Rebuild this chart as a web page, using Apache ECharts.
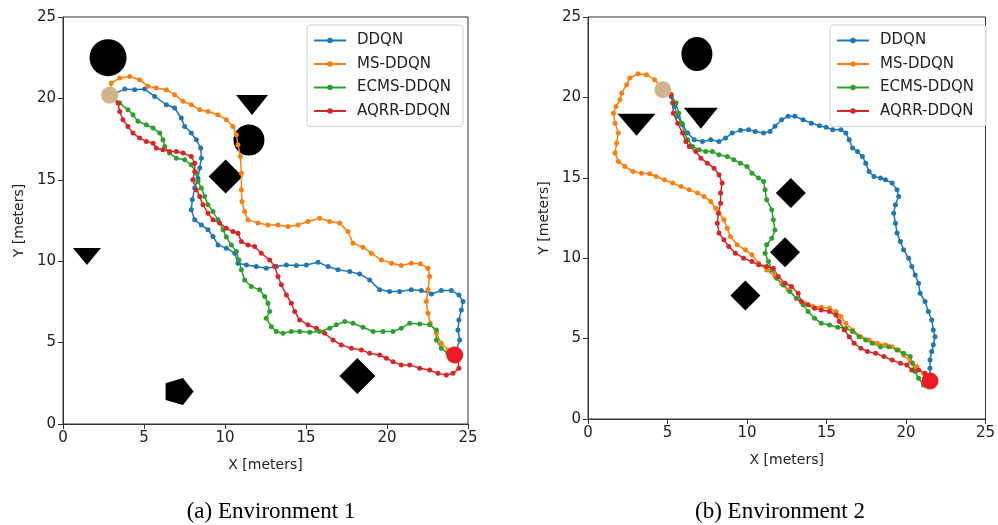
<!DOCTYPE html>
<html>
<head>
<meta charset="utf-8">
<script src="https://cdn.jsdelivr.net/npm/echarts@6/dist/echarts.min.js"></script>
<style>html,body{margin:0;padding:0;background:#fff}#c{width:998px;height:525px}</style>
</head>
<body>
<div id="c"></div>
<script>
// ---------- DATA ----------
const seriesNames = ['DDQN', 'MS-DDQN', 'ECMS-DDQN', 'AQRR-DDQN'];
const axisTicks = [0, 5, 10, 15, 20, 25];
const captions = ['(a) Environment 1', '(b) Environment 2'];

// Environment 1
const env1Start = [2.88, 20.2];
const env1Goal = [24.18, 4.24];
const env1Obstacles = [[2.78, 22.5], [11.67, 19.6], [11.48, 17.44], [10.04, 15.2], [1.48, 10.29], [7.2, 1.99], [18.17, 2.95]];
const env1ObstacleShapes = ['circle', 'triDown', 'circle', 'diamond', 'triDown', 'pentagon', 'diamond'];

const env1DDQN = [[2.88,20.18],[3.81,20.57],[4.42,20.53],[5.04,20.57],[5.66,20.12],[6.38,19.61],[6.89,19.41],[7.30,18.79],[7.51,18.28],[7.92,17.87],[8.23,17.46],[8.50,16.95],[8.54,16.33],[8.44,15.72],[8.33,15.10],[8.13,14.49],[7.98,13.77],[7.92,13.16],[8.13,12.54],[8.54,12.23],[8.95,11.93],[9.26,11.52],[9.57,11.00],[10.08,10.80],[10.60,10.49],[10.80,9.88],[11.32,9.77],[11.93,9.67],[12.55,9.57],[13.17,9.67],[13.79,9.77],[14.40,9.73],[15.02,9.77],[15.74,9.94],[16.36,9.67],[16.98,9.47],[17.70,9.36],[18.31,9.22],[18.93,8.85],[19.55,8.24],[20.16,8.14],[20.78,8.14],[21.50,8.24],[22.12,8.20],[22.74,7.99],[23.35,8.20],[23.97,8.20],[24.44,7.93],[24.69,7.52],[24.59,7.01],[24.44,6.39],[24.38,5.78],[24.49,5.16],[24.18,4.24]];
const env1MS = [[2.88,20.2],[2.98,20.94],[3.50,21.25],[4.12,21.35],[4.73,21.15],[5.25,20.74],[5.76,20.64],[6.38,20.53],[6.89,20.23],[7.41,19.82],[7.92,19.61],[8.44,19.30],[8.95,19.20],[9.57,19.00],[10.08,18.69],[10.49,18.28],[10.70,17.77],[10.80,17.15],[10.95,16.43],[11.01,15.41],[11.01,14.39],[11.05,13.67],[11.21,13.05],[11.42,12.54],[12.04,12.34],[12.65,12.23],[13.27,12.23],[13.89,12.13],[14.51,12.23],[15.12,12.44],[15.84,12.64],[16.46,12.44],[17.08,12.34],[17.59,11.82],[17.90,11.11],[18.52,10.86],[19.03,10.49],[19.65,10.08],[20.27,9.88],[20.88,9.73],[21.50,9.88],[22.06,9.84],[22.53,9.57],[22.63,9.06],[22.53,8.24],[22.43,7.52],[22.53,6.80],[22.67,6.19],[23.05,5.57],[23.35,4.96],[23.77,4.55],[24.18,4.24]];
const env1ECMS = [[2.88,20.2],[3.50,19.71],[4.01,19.30],[4.32,19.00],[4.63,18.59],[5.14,18.38],[5.56,18.18],[5.97,17.87],[6.17,17.46],[6.28,17.05],[6.58,16.64],[7.00,16.33],[7.51,16.23],[7.92,15.92],[8.23,15.41],[8.33,14.90],[8.54,14.49],[8.74,13.98],[8.95,13.46],[9.26,13.05],[9.57,12.54],[9.88,11.93],[10.08,11.48],[10.39,11.00],[10.70,10.59],[10.86,10.08],[11.01,9.47],[11.21,8.85],[11.63,8.44],[12.14,8.24],[12.45,7.83],[12.65,7.42],[12.76,6.91],[12.55,6.50],[12.86,5.98],[13.17,5.68],[13.58,5.57],[14.09,5.68],[14.61,5.68],[15.23,5.64],[15.84,5.68],[16.46,5.88],[16.87,6.09],[17.39,6.29],[17.90,6.19],[18.52,5.94],[19.14,5.68],[19.75,5.68],[20.37,5.68],[20.88,5.88],[21.40,6.19],[22.02,6.15],[22.63,6.09],[23.05,5.78],[23.05,5.16],[23.35,4.65],[23.77,4.34],[24.18,4.24]];
const env1AQRR = [[2.88,20.2],[3.40,19.71],[3.50,19.20],[3.70,18.69],[4.01,18.28],[4.32,17.87],[4.73,17.56],[5.14,17.36],[5.56,17.25],[5.76,16.95],[6.17,16.84],[6.58,16.74],[7.00,16.74],[7.41,16.64],[7.92,16.43],[8.13,16.02],[8.13,15.51],[8.02,15.00],[8.23,14.39],[8.44,13.98],[8.64,13.46],[8.95,12.95],[9.26,12.54],[9.67,12.34],[10.08,12.03],[10.49,11.82],[10.80,11.72],[11.01,11.21],[11.42,11.00],[11.83,10.90],[12.24,10.49],[12.76,10.08],[13.07,9.67],[13.27,9.06],[13.48,8.55],[13.79,7.93],[14.09,7.42],[14.30,6.91],[14.61,6.39],[15.12,6.09],[15.64,5.88],[16.15,5.57],[16.67,5.16],[17.18,4.86],[17.80,4.65],[18.42,4.55],[18.93,4.34],[19.55,4.24],[19.96,4.04],[20.37,3.83],[20.88,3.63],[21.40,3.63],[22.02,3.42],[22.63,3.32],[23.15,3.11],[23.66,3.01],[24.07,3.11],[24.44,3.42],[24.38,3.93],[24.18,4.24]];

// Environment 2
const env2Start = [4.71, 20.48];
const env2Goal = [21.51, 2.37];
const env2Obstacles = [[6.85, 22.7], [3.05, 18.3], [7.1, 18.7], [12.76, 14.05], [12.39, 10.37], [9.9, 7.68]];
const env2ObstacleShapes = ['circle', 'triDown', 'triDown', 'diamond', 'diamond', 'diamond'];

const env2DDQN = [[4.71,20.48],[5.23,20.06],[5.44,19.44],[5.64,18.82],[5.95,18.30],[6.27,17.78],[6.68,17.37],[7.20,17.26],[7.72,17.37],[8.24,17.26],[8.65,17.47],[9.07,17.78],[9.59,17.95],[10.10,17.99],[10.52,17.88],[11.04,17.78],[11.45,17.88],[11.76,18.20],[12.18,18.61],[12.59,18.82],[13.01,18.82],[13.53,18.61],[14.05,18.40],[14.56,18.24],[14.98,18.15],[15.39,17.99],[15.91,17.99],[16.22,17.78],[16.43,17.37],[16.64,16.85],[16.95,16.64],[17.26,16.33],[17.47,15.91],[17.68,15.39],[17.99,15.08],[18.40,14.98],[18.71,14.88],[19.13,14.67],[19.44,14.25],[19.54,13.84],[19.34,13.32],[19.23,12.80],[19.34,12.18],[19.44,11.56],[19.65,11.04],[19.85,10.52],[20.17,10.00],[20.37,9.48],[20.58,8.96],[20.79,8.44],[20.89,7.82],[21.20,7.30],[21.41,6.68],[21.62,6.16],[21.72,5.54],[21.83,5.12],[21.72,4.61],[21.62,4.19],[21.51,3.67],[21.51,3.15],[21.51,2.37]];
const env2MS = [[4.71,20.48],[4.19,21.10],[3.67,21.41],[3.15,21.47],[2.63,21.20],[2.43,20.79],[2.12,20.27],[2.01,19.85],[1.76,19.44],[1.60,19.02],[1.70,18.40],[1.91,17.78],[1.80,17.16],[1.70,16.54],[1.91,16.02],[2.32,15.71],[2.84,15.39],[3.36,15.29],[3.88,15.25],[4.29,15.08],[4.81,14.88],[5.33,14.67],[5.85,14.46],[6.37,14.25],[6.89,14.05],[7.30,13.84],[7.72,13.53],[8.03,13.11],[8.24,12.80],[8.55,12.39],[8.76,11.87],[8.96,11.35],[9.38,10.83],[9.90,10.52],[10.31,10.21],[10.73,9.69],[11.24,9.27],[11.76,8.86],[12.18,8.44],[12.59,8.03],[13.11,7.51],[13.63,7.20],[14.15,6.99],[14.67,6.95],[15.19,6.89],[15.60,6.68],[15.91,6.37],[16.22,5.95],[16.64,5.54],[17.16,5.12],[17.68,4.92],[18.20,4.71],[18.71,4.61],[19.13,4.50],[19.54,4.29],[19.85,3.98],[20.27,3.57],[20.68,3.26],[21.10,2.84],[21.41,2.43]];
const env2ECMS = [[4.71,20.48],[5.23,20.17],[5.54,19.65],[5.71,19.02],[5.91,18.40],[6.06,17.78],[6.27,17.37],[6.58,16.95],[6.99,16.74],[7.41,16.64],[7.82,16.64],[8.24,16.43],[8.76,16.33],[9.17,16.12],[9.59,15.91],[10.00,15.71],[10.31,15.29],[10.73,14.98],[11.04,14.77],[11.14,14.25],[11.24,13.63],[11.56,13.01],[11.66,12.39],[11.76,11.76],[11.56,11.24],[11.24,10.83],[11.14,10.31],[11.35,9.79],[11.56,9.27],[11.87,8.76],[12.28,8.34],[12.70,7.93],[13.11,7.51],[13.53,7.10],[13.84,6.68],[14.25,6.27],[14.67,5.95],[15.19,5.85],[15.71,5.71],[16.22,5.64],[16.64,5.44],[17.05,5.12],[17.47,4.92],[17.88,4.71],[18.40,4.50],[18.92,4.50],[19.44,4.29],[19.85,4.09],[20.27,3.88],[20.41,3.46],[20.58,2.95],[20.79,2.53],[21.10,2.12],[21.51,2.37]];
const env2AQRR = [[4.71,20.48],[5.23,20.17],[5.33,19.65],[5.37,19.02],[5.64,18.40],[5.95,17.78],[6.16,17.26],[6.37,16.95],[6.78,16.64],[7.10,16.22],[7.51,15.91],[7.93,15.60],[8.24,15.19],[8.44,14.67],[8.34,14.05],[8.34,13.42],[8.20,12.80],[8.13,12.18],[8.24,11.56],[8.55,11.14],[8.86,10.73],[9.27,10.31],[9.79,10.00],[10.31,9.79],[10.73,9.59],[11.24,9.48],[11.66,9.38],[11.97,8.86],[12.39,8.44],[12.80,8.24],[13.22,7.82],[13.42,7.30],[13.84,7.10],[14.25,6.89],[14.67,6.78],[15.19,6.68],[15.60,6.47],[15.81,6.06],[16.12,5.54],[16.43,5.12],[16.74,4.71],[17.16,4.40],[17.57,4.19],[18.09,4.09],[18.61,3.88],[19.13,3.67],[19.65,3.46],[20.06,3.36],[20.37,3.05],[20.79,3.05],[21.20,2.84],[21.51,2.53],[21.51,2.37]];

// ---------- STYLE ----------
const colors = ['#1f77b4', '#ff7f0e', '#2ca02c', '#d62728'];
const shapeStyle = {
  circle: {symbol: 'circle', rotate: 0},
  triDown: {symbol: 'triangle', rotate: 180},
  diamond: {symbol: 'diamond', rotate: 0},
  pentagon: {symbol: 'path://M1,0 L0.309,0.951 L-0.809,0.588 L-0.809,-0.588 L0.309,-0.951 Z', rotate: 0}
};
const env1ObstacleSizes = [[37,37],[32,20],[31,31],[34,34],[28,17],[28,27],[36,36]];
const env2ObstacleSizes = [[31,34],[38,22],[34,21],[30,30],[30,30],[30,30]];

const font = 'DejaVu Sans';
function axisCommon(i, isX) {
  return {
    type: 'value', gridIndex: i, min: 0, max: 25, interval: 5,
    name: isX ? 'X [meters]' : 'Y [meters]',
    nameLocation: 'middle', nameGap: isX ? 34 : 37,
    nameTextStyle: {fontFamily: font, fontSize: 14, color: '#222'},
    axisLine: {show: true, onZero: false, lineStyle: {color: '#333', width: 1}},
    axisTick: {show: true, inside: false, length: 5, lineStyle: {color: '#333'}},
    axisLabel: {fontFamily: font, fontSize: 15, color: '#222', margin: 7,
      formatter: v => axisTicks.includes(v) ? String(v) : ''},
    splitLine: {show: false}
  };
}

function obstacleSeries(i, pts, shapes, sizes) {
  return {
    type: 'scatter', xAxisIndex: i, yAxisIndex: i, z: 1, silent: true,
    data: pts.map((p, k) => ({
      value: p,
      symbol: shapeStyle[shapes[k]].symbol,
      symbolRotate: shapeStyle[shapes[k]].rotate,
      symbolSize: sizes[k]
    })),
    itemStyle: {color: '#000', opacity: 1}
  };
}
function pathSeries(i, name, data, k) {
  return {
    type: 'line', name: name, xAxisIndex: i, yAxisIndex: i, z: 2,
    data: data, symbol: 'circle', symbolSize: 5, showSymbol: true,
    lineStyle: {color: colors[k], width: 1.5},
    itemStyle: {color: colors[k], borderWidth: 0},
    animation: false
  };
}
function pointSeries(i, p, color, size) {
  return {type: 'scatter', xAxisIndex: i, yAxisIndex: i, z: 3, silent: true,
    data: [p], symbol: 'circle', symbolSize: size, itemStyle: {color: color, opacity: 1}};
}

const env1Paths = [env1DDQN, env1MS, env1ECMS, env1AQRR];
const env2Paths = [env2DDQN, env2MS, env2ECMS, env2AQRR];

const series = [];
series.push(obstacleSeries(0, env1Obstacles, env1ObstacleShapes, env1ObstacleSizes));
series.push(obstacleSeries(1, env2Obstacles, env2ObstacleShapes, env2ObstacleSizes));
env1Paths.forEach((d, k) => series.push(pathSeries(0, seriesNames[k], d, k)));
env2Paths.forEach((d, k) => series.push(pathSeries(1, seriesNames[k], d, k)));
series.push(pointSeries(0, env1Start, '#d2b48c', 17));
series.push(pointSeries(0, env1Goal, '#ec1c24', 17));
series.push(pointSeries(1, env2Start, '#d2b48c', 17));
series.push(pointSeries(1, env2Goal, '#ec1c24', 17));

function legendAt(left) {
  return {
    orient: 'vertical', left: left, top: 25,
    data: seriesNames, itemWidth: 32, itemHeight: 7, itemGap: 8.5,
    padding: [8, 12, 8, 6],
    borderColor: '#d0d0d0', borderWidth: 1, borderRadius: 3,
    backgroundColor: 'rgba(255,255,255,0.85)',
    textStyle: {fontFamily: font, fontSize: 15, color: '#222', padding: [0, 0, 0, 6]},
    selectedMode: false
  };
}

const chart = echarts.init(document.getElementById('c'), null, {renderer: 'canvas'});
chart.setOption({
  animation: false,
  backgroundColor: '#fff',
  color: colors,
  title: [
    {text: captions[0], left: 266, top: 495, textAlign: 'center',
      textStyle: {fontFamily: 'Liberation Serif', fontSize: 23, fontWeight: 'normal', color: '#000'}},
    {text: captions[1], left: 775, top: 495, textAlign: 'center',
      textStyle: {fontFamily: 'Liberation Serif', fontSize: 23, fontWeight: 'normal', color: '#000'}}
  ],
  legend: [legendAt(307), legendAt(830)],
  grid: [
    {left: 63, top: 17, width: 405, height: 407, show: true, borderColor: '#333', borderWidth: 1, backgroundColor: 'transparent'},
    {left: 588, top: 17, width: 401, height: 402, show: true, borderColor: '#333', borderWidth: 1, backgroundColor: 'transparent'}
  ],
  xAxis: [axisCommon(0, true), axisCommon(1, true)],
  yAxis: [axisCommon(0, false), axisCommon(1, false)],
  series: series
});
</script>
</body>
</html>
